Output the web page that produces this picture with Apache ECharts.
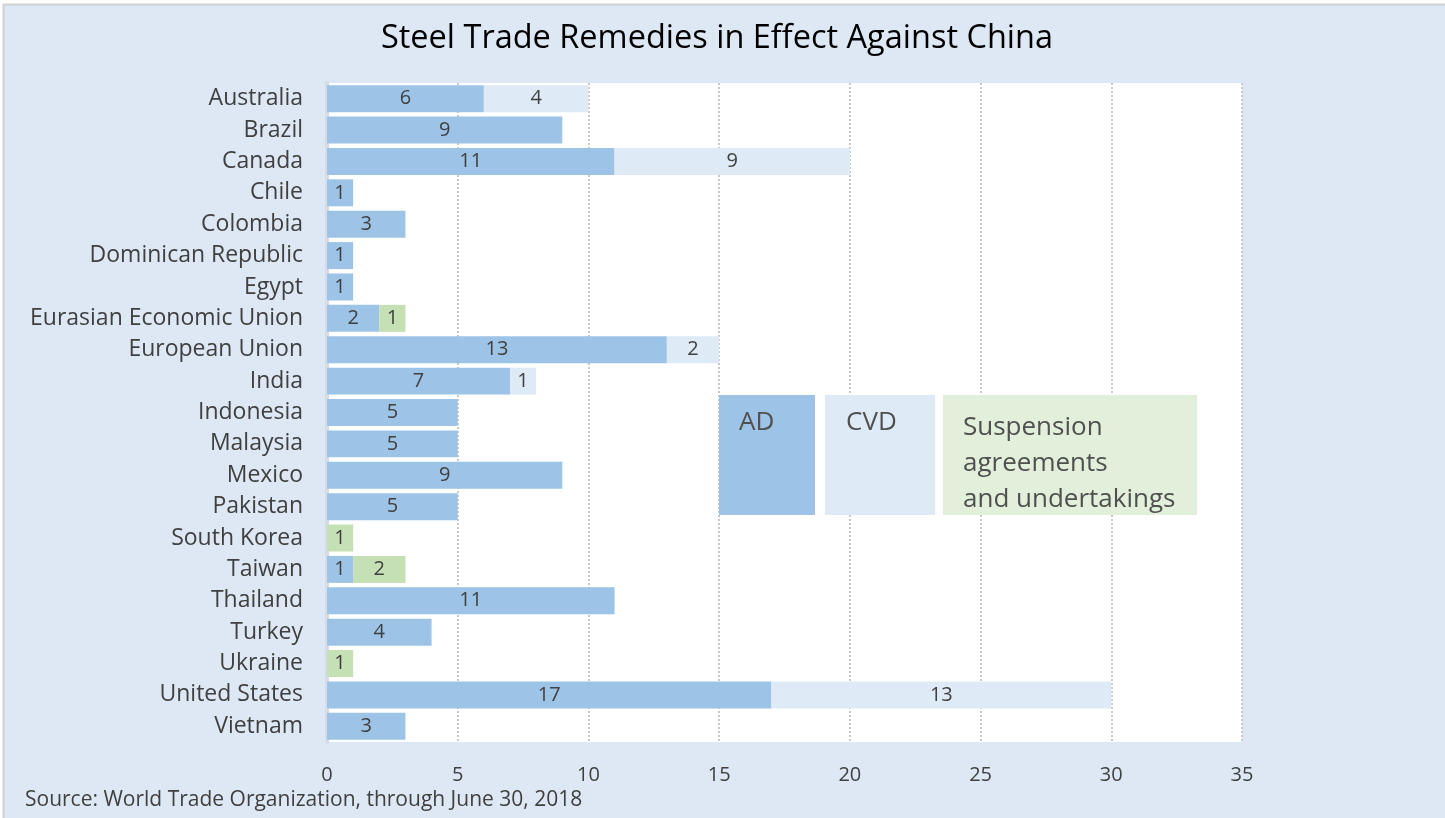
<!DOCTYPE html>
<html>
<head>
<meta charset="utf-8">
<title>Steel Trade Remedies</title>
<script src="https://cdn.jsdelivr.net/npm/echarts@6/dist/echarts.min.js"></script>
<style>
  html, body { margin: 0; padding: 0; background: #fff; }
  #chart { width: 1445px; height: 818px; }
</style>
</head>
<body>
<div id="chart"></div>
<script>
// countries, top to bottom
const countries = ['Australia', 'Brazil', 'Canada', 'Chile', 'Colombia', 'Dominican Republic', 'Egypt',
  'Eurasian Economic Union', 'European Union', 'India', 'Indonesia', 'Malaysia', 'Mexico', 'Pakistan',
  'South Korea', 'Taiwan', 'Thailand', 'Turkey', 'Ukraine', 'United States', 'Vietnam']
const adValues = [6, 9, 11, 1, 3, 1, 1, 2, 13, 7, 5, 5, 9, 5, 0, 1, 11, 4, 0, 17, 3]
const cvdValues = [4, 0, 9, 0, 0, 0, 0, 0, 2, 1, 0, 0, 0, 0, 0, 0, 0, 0, 0, 13, 0]
const suspValues = [0, 0, 0, 0, 0, 0, 0, 1, 0, 0, 0, 0, 0, 0, 1, 2, 0, 0, 1, 0, 0]
const xTicks = [0, 5, 10, 15, 20, 25, 30, 35]

const FONT = '"Open Sans", Lato, sans-serif'
const TXT = '#404040'
const colors = { ad: '#9dc3e6', cvd: '#deebf7', susp: '#c5e0b4' }

const chart = echarts.init(document.getElementById('chart'))

// 0 -> no bar, no label
const clean = arr => arr.map(v => (v === 0 ? '-' : v))

function makeSeries(name, data, color) {
  return {
    name: name,
    type: 'bar',
    stack: 'total',
    barCategoryGap: '14%',
    data: clean(data),
    itemStyle: { color: color },
    label: {
      show: true,
      position: 'inside',
      color: TXT,
      fontFamily: FONT,
      fontSize: 20
    },
    emphasis: { disabled: true }
  }
}

const option = {
  backgroundColor: '#ffffff',
  animation: false,
  title: {
    text: 'Steel Trade Remedies in Effect Against China',
    left: 712,
    top: 17,
    textAlign: 'center',
    textStyle: { fontFamily: FONT, fontSize: 32.5, fontWeight: 'normal', color: '#000' }
  },
  grid: {
    left: 327,
    right: 203,
    top: 83,
    bottom: 76,
    show: true,
    backgroundColor: '#ffffff',
    borderWidth: 0
  },
  xAxis: {
    type: 'value',
    min: xTicks[0],
    max: xTicks[xTicks.length - 1],
    interval: 5,
    axisLine: { show: false },
    axisTick: { show: false },
    axisLabel: { color: TXT, fontFamily: FONT, fontSize: 20, margin: 23 },
    splitLine: { show: true, lineStyle: { color: '#c9c9c9', type: 'dotted', width: 2 } }
  },
  yAxis: {
    type: 'category',
    data: countries,
    inverse: true,
    axisLine: { show: true, lineStyle: { color: '#d5dce6', width: 4 } },
    axisTick: { show: false },
    axisLabel: { color: TXT, fontFamily: FONT, fontSize: 23, margin: 24 }
  },
  graphic: [
    // light blue panel behind everything
    { type: 'rect', z: -10, silent: true,
      shape: { x: 3.5, y: 4.5, width: 1450, height: 820 },
      style: { fill: '#dde8f4', stroke: '#d0d0d0', lineWidth: 2 } },
    // legend boxes
    { type: 'rect', z: 100, shape: { x: 719, y: 395, width: 96, height: 120 }, style: { fill: colors.ad } },
    { type: 'text', z: 101, left: 739, top: 410,
      style: { text: 'AD', fill: '#505050', font: '26px ' + FONT } },
    { type: 'rect', z: 100, shape: { x: 825, y: 395, width: 110, height: 120 }, style: { fill: colors.cvd } },
    { type: 'text', z: 101, left: 846, top: 410,
      style: { text: 'CVD', fill: '#505050', font: '26px ' + FONT } },
    { type: 'rect', z: 100, shape: { x: 943, y: 395, width: 254, height: 120 }, style: { fill: '#e2efda' } },
    { type: 'text', z: 101, left: 963, top: 410,
      style: { text: 'Suspension\nagreements\nand undertakings', fill: '#505050', font: '26px ' + FONT, lineHeight: 36 } },
    // source note
    { type: 'text', left: 25, top: 790,
      style: { text: 'Source: World Trade Organization, through June 30, 2018', fill: TXT, font: '21px ' + FONT } }
  ],
  series: [
    makeSeries('AD', adValues, colors.ad),
    makeSeries('CVD', cvdValues, colors.cvd),
    makeSeries('Suspension agreements and undertakings', suspValues, colors.susp)
  ]
}

chart.setOption(option)
</script>
</body>
</html>
